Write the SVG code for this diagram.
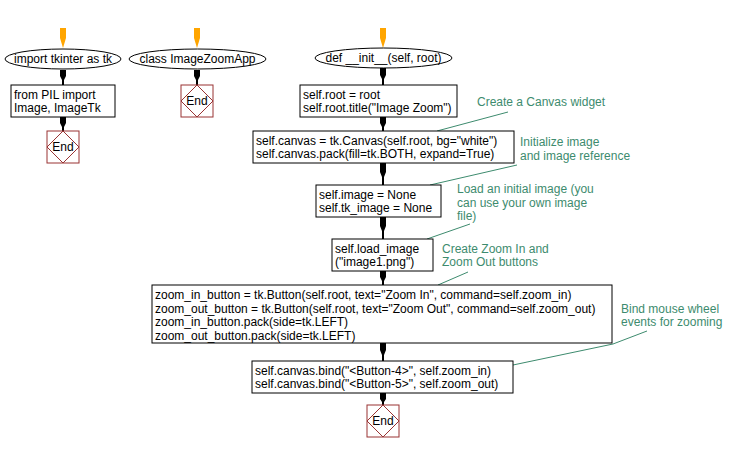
<svg xmlns="http://www.w3.org/2000/svg" width="734" height="452" viewBox="0 0 734 452">
<style>
text{font-family:"Liberation Sans",Arial,sans-serif;font-size:12px;fill:#000}
.box{fill:#fff;stroke:#000;stroke-width:1}
.ell{fill:#fff;stroke:#000;stroke-width:1}
.endr{fill:#fff;stroke:#993333;stroke-width:1}
.endd{fill:none;stroke:#993333;stroke-width:1}
.arr{fill:#000}
.oarr{fill:#ffa500}
.cm{fill:#3d8b6e}
.cl{fill:none;stroke:#3d8b6e;stroke-width:1}
.mid{text-anchor:middle}
</style>
<rect width="734" height="452" fill="#fff"/>
<g id="connectors">
<path class="oarr" d="M60,28 H66 V38 L63,48 L60,38 Z"/>
<path class="oarr" d="M194,28 H200 V38 L197,48 L194,38 Z"/>
<path class="oarr" d="M380,28 H386 V38 L383,48 L380,38 Z"/>
<path class="arr" d="M60,70 H66 V76 L64,80 V85 H62 V80 L60,76 Z"/>
<path class="arr" d="M60,117 H66 V123 L64,127 V131 H62 V127 L60,123 Z"/>
<path class="arr" d="M194,70 H200 V76 L198,80 V85 H196 V80 L194,76 Z"/>
<path class="arr" d="M380,68 H386 V75 L384,79 V85 H382 V79 L380,75 Z"/>
<path class="arr" d="M380,117 H386 V123 L384,127 V131 H382 V127 L380,123 Z"/>
<path class="arr" d="M380,163 H386 V172 L384,177 V185 H382 V177 L380,172 Z"/>
<path class="arr" d="M380,217 H386 V226 L384,231 V239 H382 V231 L380,226 Z"/>
<path class="arr" d="M380,271 H386 V277 L384,281 V285 H382 V281 L380,277 Z"/>
<path class="arr" d="M380,343 H386 V350 L384,355 V361 H382 V355 L380,350 Z"/>
<path class="arr" d="M380,393 H386 V399 L384,402 V405 H382 V402 L380,399 Z"/>
<path class="cl" d="M508,112 L437,131"/>
<path class="cl" d="M517,165 L430,185"/>
<path class="cl" d="M470,224 L427,239"/>
<path class="cl" d="M468,272 L438,285"/>
<path class="cl" d="M647,331 L613,344 L513,365"/>
</g>
<g id="n_import">
<ellipse class="ell" cx="63" cy="59" rx="58" ry="10"/>
<text class="mid" x="63" y="63">import tkinter as tk</text>
</g>
<g id="n_pil">
<rect class="box" x="11" y="85" width="104" height="32"/>
<text x="14" y="99">from PIL import</text>
<text x="14" y="112">Image, ImageTk</text>
</g>
<g id="n_end1">
<rect class="endr" x="47" y="131" width="32" height="32"/>
<path class="endd" d="M63,131 L79,147 L63,163 L47,147 Z"/>
<text class="mid" x="63" y="151">End</text>
</g>
<g id="n_class">
<ellipse class="ell" cx="197.5" cy="59" rx="68.5" ry="10"/>
<text class="mid" x="197.5" y="63">class ImageZoomApp</text>
</g>
<g id="n_end2">
<rect class="endr" x="181" y="85" width="32" height="32"/>
<path class="endd" d="M197,85 L213,101 L197,117 L181,101 Z"/>
<text class="mid" x="197" y="105">End</text>
</g>
<g id="n_init">
<ellipse class="ell" cx="383.5" cy="58" rx="68.5" ry="10"/>
<text class="mid" x="383.5" y="62">def __init__(self, root)</text>
</g>
<g id="n_root">
<rect class="box" x="300" y="85" width="157" height="32"/>
<text x="303" y="99">self.root = root</text>
<text x="303" y="112">self.root.title("Image Zoom")</text>
</g>
<g id="n_canvas">
<rect class="box" x="253" y="131" width="261" height="32"/>
<text x="256" y="145">self.canvas = tk.Canvas(self.root, bg="white")</text>
<text x="256" y="158">self.canvas.pack(fill=tk.BOTH, expand=True)</text>
</g>
<g id="n_image">
<rect class="box" x="316" y="185" width="125" height="32"/>
<text x="319" y="199">self.image = None</text>
<text x="319" y="212">self.tk_image = None</text>
</g>
<g id="n_load">
<rect class="box" x="332" y="239" width="101" height="32"/>
<text x="335" y="253">self.load_image</text>
<text x="335" y="266">("image1.png")</text>
</g>
<g id="n_buttons">
<rect class="box" x="152" y="285" width="460" height="58"/>
<text x="155" y="299">zoom_in_button = tk.Button(self.root, text="Zoom In", command=self.zoom_in)</text>
<text x="155" y="312.5">zoom_out_button = tk.Button(self.root, text="Zoom Out", command=self.zoom_out)</text>
<text x="155" y="326">zoom_in_button.pack(side=tk.LEFT)</text>
<text x="155" y="339.5">zoom_out_button.pack(side=tk.LEFT)</text>
</g>
<g id="n_bind">
<rect class="box" x="252" y="361" width="261" height="32"/>
<text x="255" y="375">self.canvas.bind("&lt;Button-4&gt;", self.zoom_in)</text>
<text x="255" y="388">self.canvas.bind("&lt;Button-5&gt;", self.zoom_out)</text>
</g>
<g id="n_end3">
<rect class="endr" x="367" y="405" width="32" height="32"/>
<path class="endd" d="M383,405 L399,421 L383,437 L367,421 Z"/>
<text class="mid" x="383" y="425">End</text>
</g>
<g id="comments">
<text class="cm" x="477" y="106">Create a Canvas widget</text>
<text class="cm" x="520" y="146">Initialize image</text>
<text class="cm" x="520" y="160">and image reference</text>
<text class="cm" x="457" y="193">Load an initial image (you</text>
<text class="cm" x="457" y="207">can use your own image</text>
<text class="cm" x="457" y="220">file)</text>
<text class="cm" x="442" y="253">Create Zoom In and</text>
<text class="cm" x="442" y="266">Zoom Out buttons</text>
<text class="cm" x="621" y="313">Bind mouse wheel</text>
<text class="cm" x="621" y="326">events for zooming</text>
</g>
</svg>
